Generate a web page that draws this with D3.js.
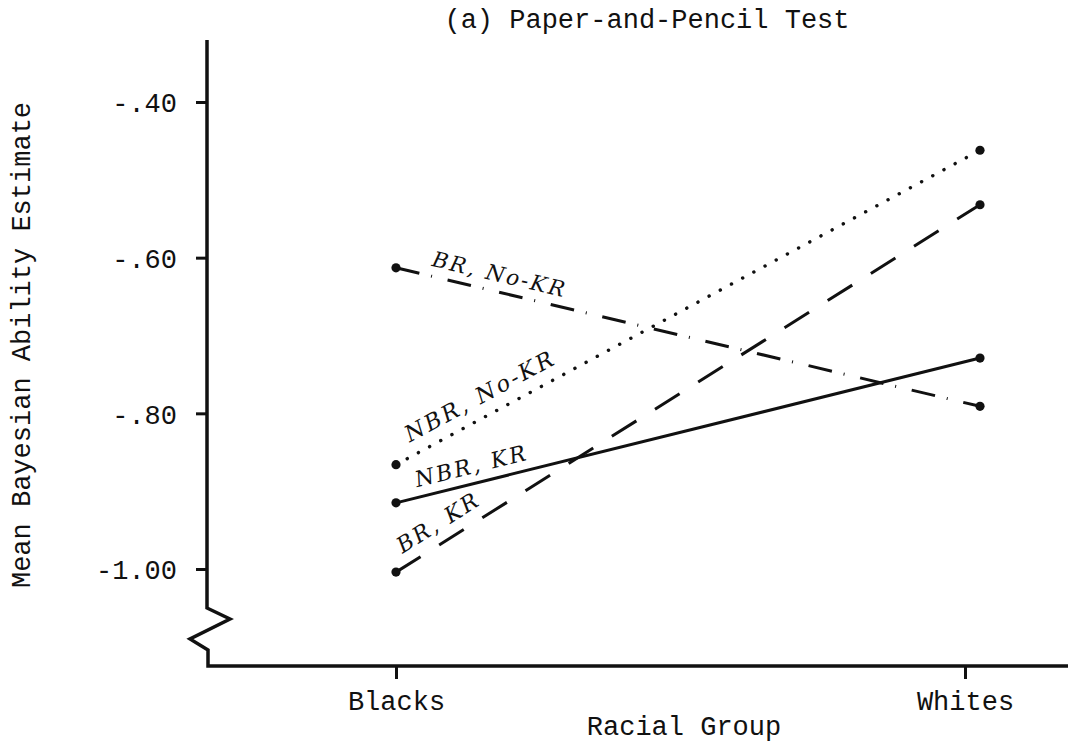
<!DOCTYPE html>
<html>
<head>
<meta charset="utf-8">
<script src="https://cdn.jsdelivr.net/npm/d3@7"></script>
<style>
  html, body { margin: 0; padding: 0; background: #fff; }
  svg { display: block; }
  .mono { font-family: "Courier New", "Liberation Mono", monospace; fill: #111; }
  .lab { font-family: "DejaVu Serif", serif; font-style: italic; fill: #111; }
</style>
</head>
<body>
<svg id="chart" width="1068" height="744"></svg>
<script>
// Categories on the x axis
const categories = ["Blacks", "Whites"];

// Mean Bayesian ability estimates per condition (Blacks, Whites)
const nbrKR   = [-0.915, -0.729];
const brKR    = [-1.004, -0.532];
const nbrNoKR = [-0.866, -0.462];
const brNoKR  = [-0.613, -0.791];

const seriesNames  = ["NBR, KR", "BR, KR", "NBR, No-KR", "BR, No-KR"];
const seriesValues = [nbrKR, brKR, nbrNoKR, brNoKR];

// Y axis ticks
const yTickValues = [-0.40, -0.60, -0.80, -1.00];
const yTickLabels = ["-.40", "-.60", "-.80", "-1.00"];

// Line style and label placement for each condition
const lineStyle = {
  "NBR, KR":    { dash: null,           t: 0.040, off: 10, fs: 22, ls: 2.4 },
  "BR, KR":     { dash: "29 22",        t: 0.022, off: 12, fs: 22, ls: 2.4 },
  "NBR, No-KR": { dash: "0.1 12.6",     t: 0.034, off: 13, fs: 22.5, ls: 2.6 },
  "BR, No-KR":  { dash: "24 12 1 16",   t: 0.056, off: 10, fs: 21.5, ls: 2.3 }
};

const svg = d3.select("#chart");

const axisX = 207;         // vertical axis position
const axisTop = 40;
const baseY = 666;         // horizontal axis position
const whitesShift = 15;    // data markers sit slightly right of the Whites tick

const x = d3.scalePoint().domain(categories).range([396, 965]);
const y = d3.scaleLinear().domain([-1.0, -0.4]).range([569, 102]);

const px = (i) => x(categories[i]) + (i === 1 ? whitesShift : 0);

// Title
svg.append("text").attr("class", "mono")
  .attr("x", 647).attr("y", 28)
  .attr("text-anchor", "middle").attr("font-size", 27)
  .text("(a) Paper-and-Pencil Test");

// Axis frame with a break mark near the bottom of the y axis
const frame = d3.path();
frame.moveTo(axisX, axisTop);
frame.lineTo(axisX, 608);
frame.lineTo(axisX + 23, 619);
frame.lineTo(axisX - 17, 639);
frame.lineTo(axisX + 1, 650);
frame.lineTo(axisX + 1, baseY);
frame.lineTo(1068, baseY);
svg.append("path").attr("d", frame.toString())
  .attr("fill", "none").attr("stroke", "#111")
  .attr("stroke-width", 3.5).attr("stroke-linejoin", "miter");

// Y axis ticks and labels
const yAxis = d3.axisLeft(y)
  .tickValues(yTickValues)
  .tickSize(11)
  .tickPadding(19)
  .tickFormat((d, i) => yTickLabels[i]);
const gy = svg.append("g").attr("transform", `translate(${axisX},0)`).call(yAxis);
gy.select(".domain").remove();
gy.selectAll(".tick line").attr("stroke", "#111").attr("stroke-width", 3);
gy.selectAll(".tick text").attr("class", "mono")
  .attr("font-size", 27).attr("font-family", null).attr("dy", "0.36em");

// X axis ticks and labels
const xAxis = d3.axisBottom(x).tickSize(13).tickPadding(12);
const gx = svg.append("g").attr("transform", `translate(0,${baseY})`).call(xAxis);
gx.select(".domain").remove();
gx.selectAll(".tick line").attr("stroke", "#111").attr("stroke-width", 3);
gx.selectAll(".tick text").attr("class", "mono")
  .attr("font-size", 27).attr("font-family", null);

// Axis titles
svg.append("text").attr("class", "mono")
  .attr("x", 684).attr("y", 735)
  .attr("text-anchor", "middle").attr("font-size", 27)
  .text("Racial Group");

svg.append("text").attr("class", "mono")
  .attr("transform", "translate(30,345) rotate(-90)")
  .attr("text-anchor", "middle").attr("font-size", 27)
  .text("Mean Bayesian Ability Estimate");

// Lines, end markers and inline labels
const line = d3.line().x((d, i) => px(i)).y(d => y(d));

seriesNames.forEach((name, k) => {
  const vals = seriesValues[k];
  const st = lineStyle[name];
  const p = svg.append("path").datum(vals)
    .attr("d", line)
    .attr("fill", "none").attr("stroke", "#111")
    .attr("stroke-width", name === "NBR, No-KR" ? 3.4 : 3)
    .attr("stroke-linecap", name === "NBR, No-KR" ? "round" : "butt");
  if (st.dash) p.attr("stroke-dasharray", st.dash);

  svg.selectAll(null).data(vals).enter().append("circle")
    .attr("cx", (d, i) => px(i)).attr("cy", d => y(d))
    .attr("r", 4.6).attr("fill", "#111");

  const x0 = px(0), y0 = y(vals[0]), x1 = px(1), y1 = y(vals[1]);
  const ang = Math.atan2(y1 - y0, x1 - x0) * 180 / Math.PI;
  const lx = x0 + st.t * (x1 - x0), ly = y0 + st.t * (y1 - y0);
  svg.append("text").attr("class", "lab")
    .attr("transform", `translate(${lx},${ly}) rotate(${ang}) translate(0,${-st.off})`)
    .attr("font-size", st.fs).attr("letter-spacing", st.ls)
    .text(name);
});
</script>
</body>
</html>
